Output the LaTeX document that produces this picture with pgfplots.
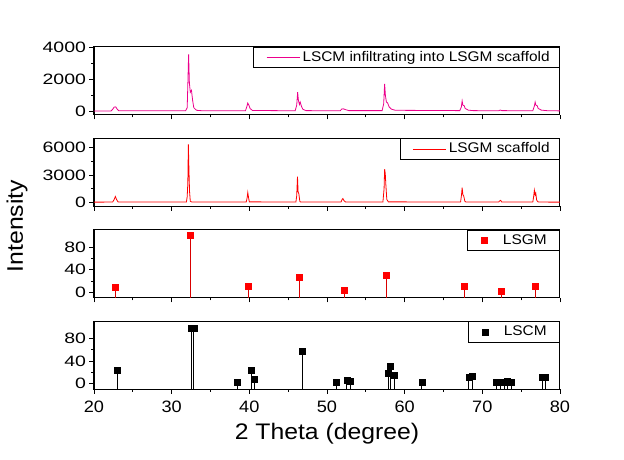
\documentclass[border=0pt]{standalone}
\usepackage{pgfplots}
\pgfplotsset{compat=1.18}
\usepackage{pgfplotstable}
\usepackage{fontspec}
\setmainfont[FakeStretch=1.1]{Liberation Sans}
\newfontfamily\ytickfont[FakeStretch=1.3]{Liberation Sans}

\pgfplotstableread{
x y
20 45
22.2 50
22.4 150
22.6 290
22.8 300
23.0 150
23.2 60
31.8 60
32.0 250
32.1 2000
32.18 3550
32.28 1800
32.4 1200
32.55 1320
32.7 700
32.85 250
33.2 90
34 60
39.5 60
39.7 350
39.8 540
39.95 400
40.1 200
40.4 80
45.9 60
46.1 400
46.22 1210
46.32 700
46.45 450
46.55 600
46.7 350
46.9 150
47.3 70
51.7 60
51.9 170
52.1 180
52.4 130
52.8 70
57.1 70
57.3 500
57.42 1720
57.52 1000
57.65 600
57.8 550
58.0 300
58.3 160
58.8 90
67.1 70
67.3 300
67.4 670
67.5 400
67.65 380
67.8 200
68.2 100
68.8 70
72.1 60
72.3 110
72.5 70
76.5 60
76.7 350
76.8 600
76.9 400
77.05 380
77.2 200
77.6 100
78.5 60
80 55
}\infil

\pgfplotstableread{
x y
20 0
22.4 10
22.6 300
22.75 620
22.9 300
23.1 20
31.9 20
32.0 600
32.08 2090
32.15 6380
32.22 3740
32.3 1200
32.4 100
32.6 10
39.6 10
39.72 500
39.8 1060
39.9 500
40.0 30
46.0 20
46.1 700
46.2 2820
46.28 1170
46.38 900
46.5 100
46.6 10
51.8 10
51.95 300
52.05 400
52.2 150
52.4 10
57.2 20
57.35 1500
57.42 3630
57.5 3190
57.58 1900
57.7 300
57.9 30
67.2 20
67.32 800
67.4 1610
67.5 800
67.6 700
67.75 100
67.9 10
72.1 10
72.25 150
72.35 200
72.5 10
76.5 10
76.62 700
76.7 1320
76.8 800
76.88 990
77.0 200
77.2 10
80 0
}\scaffold

\pgfplotstableread{
x y e
22.7 9 30
32.35 100 120
39.85 10 30
46.4 27 50
52.2 4 30
57.6 31 50
67.65 11 30
72.4 2 30
76.85 11 30
}\lsgm

\pgfplotstableread{
x y e
23.0 24 40
32.5 98 120
32.85 98 120
38.5 2 30
40.2 24 40
40.65 9 30
46.85 57 80
51.15 2 30
52.55 6 30
53.0 5 30
57.9 19 40
58.15 31 50
58.65 15 40
62.2 2 30
68.25 12 30
68.75 14 30
71.8 2 30
72.3 2 30
72.8 2 30
73.2 4 30
73.7 3 30
77.7 11 30
78.1 11 30
}\lscm

\pgfplotsset{
  base/.style={
    scale only axis, width=466pt, height=68pt,
    xmin=20, xmax=80,
    axis line style={line width=1pt},
    tick style={line width=0.8pt, black},
    tick align=outside, xtick pos=left, ytick pos=left,
    major tick length=4.5pt, minor tick length=2.5pt,
    xtick={20,30,...,80}, minor x tick num=1, minor y tick num=1,
    scaled y ticks=false, scaled x ticks=false,
    /pgf/number format/1000 sep={},
    /pgf/number format/assume math mode=true,
    xticklabel={\pgfmathprintnumber[assume math mode=true]{\tick}},
    yticklabel={\pgfmathprintnumber[assume math mode=true]{\tick}},
    yticklabel style={font=\ytickfont\fontsize{15}{15}\selectfont},
    xticklabel style={font=\fontsize{16.5}{17}\selectfont, yshift=-3pt},
    legend style={at={(1,1)}, anchor=north east, draw=black, line width=0.8pt,
      font=\fontsize{14}{14}\selectfont, inner xsep=5pt, inner ysep=2pt,
      nodes={inner xsep=2.5pt, inner ysep=1.5pt, text height=10.5pt, text depth=3pt}},
    legend cell align=left,
  },
  linelegend/.style={legend image code/.code={\path (-7.5pt,0pt) (33pt,0pt); \draw[##1] (0pt,0pt) -- (33pt,0pt);}},
  marklegend/.style={legend image code/.code={\path (0pt,0pt) (27.5pt,0pt); \draw[##1] plot coordinates {(11.5pt,0pt)};}},
}

\begin{document}
\begin{tikzpicture}
\path (0pt,0pt) rectangle (624pt,460pt);

\begin{axis}[base, at={(94pt,345pt)}, anchor=south west,
  ymin=-200, ymax=4000, ytick={0,2000,4000}, xticklabels={}, linelegend]
\addplot[magenta, line width=0.8pt] table[x=x,y=y]{\infil};
\addlegendentry{LSCM infiltrating into LSGM scaffold\hspace*{2.5pt}}
\end{axis}

\begin{axis}[base, at={(94pt,253.5pt)}, anchor=south west,
  ymin=-480, ymax=7030, ytick={0,3000,6000}, xticklabels={}, linelegend]
\addplot[red, line width=0.8pt] table[x=x,y=y]{\scaffold};
\addlegendentry{LSGM scaffold\hspace*{2.5pt}}
\end{axis}

\begin{axis}[base, at={(94pt,162pt)}, anchor=south west,
  ymin=-10, ymax=110, ytick={0,40,80}, xticklabels={}, marklegend]
\addplot[red, only marks, mark=square*, mark size=3pt,
  error bars/.cd, y dir=minus, y explicit, error mark=none,
  error bar style={red!85!black, line width=0.7pt}]
  table[x=x,y=y,y error=e]{\lsgm};
\addlegendentry{LSGM\hspace*{5.5pt}}
\end{axis}

\begin{axis}[base, at={(94pt,70.5pt)}, anchor=south west,
  ymin=-10, ymax=110, ytick={0,40,80}, marklegend]
\addplot[black, only marks, mark=square*, mark size=3pt,
  error bars/.cd, y dir=minus, y explicit, error mark=none,
  error bar style={black, line width=0.7pt}]
  table[x=x,y=y,y error=e]{\lscm};
\addlegendentry{LSCM\hspace*{5.5pt}}
\end{axis}

\node[rotate=90, font=\fontsize{22.5}{23}\selectfont] at (17pt,234pt) {Intensity};
\node[font=\fontsize{22.5}{23}\selectfont] at (327pt,26pt) {2 Theta (degree)};
\end{tikzpicture}
\end{document}
